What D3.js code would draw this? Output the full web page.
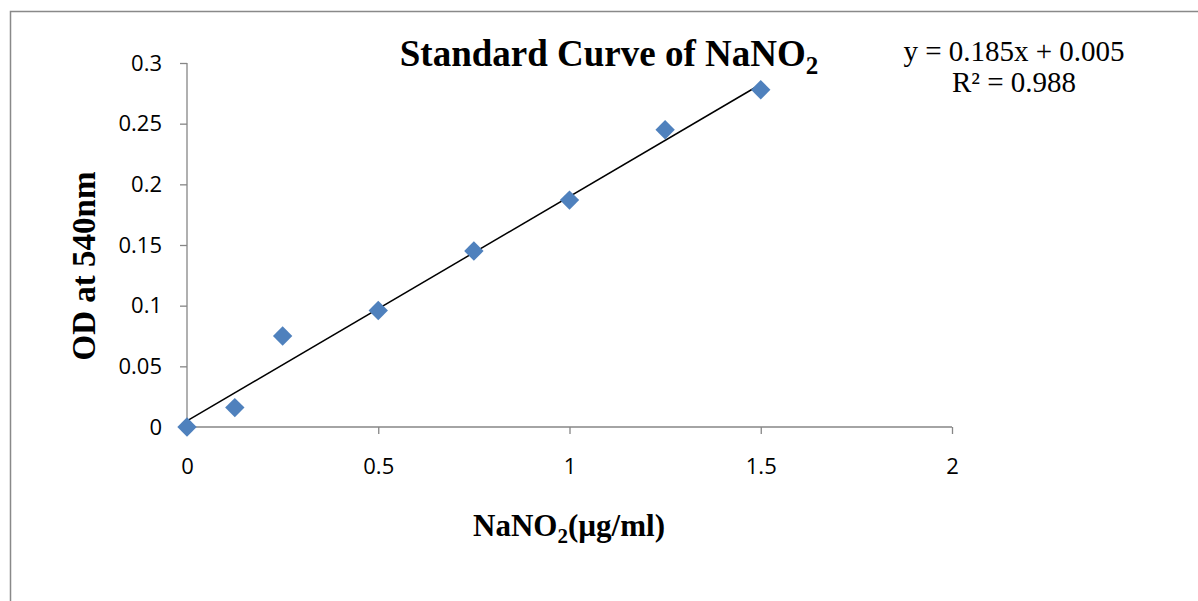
<!DOCTYPE html>
<html>
<head>
<meta charset="utf-8">
<script src="https://cdn.jsdelivr.net/npm/d3@7"></script>
<style>
  body { margin: 0; background: #fff; }
  svg { display: block; }
</style>
</head>
<body>
<div id="chart"></div>
<script>
const width = 1198, height = 601;

// data
const conc = [0, 0.125, 0.25, 0.5, 0.75, 1, 1.25, 1.5];
const od = [0, 0.016, 0.075, 0.096, 0.145, 0.187, 0.245, 0.278];
const xTicks = [0, 0.5, 1, 1.5, 2];
const yTicks = [0, 0.05, 0.1, 0.15, 0.2, 0.25, 0.3];
const slope = 0.185, intercept = 0.005;

const x = d3.scaleLinear().domain([0, 2]).range([187, 952]);
const y = d3.scaleLinear().domain([0, 0.3]).range([427, 63]);

const svg = d3.select("#chart").append("svg")
    .attr("width", width)
    .attr("height", height);

// chart border
svg.append("rect")
    .attr("x", 10.5).attr("y", 11.5)
    .attr("width", width + 20).attr("height", height + 20)
    .attr("fill", "none")
    .attr("stroke", "#898989")
    .attr("stroke-width", 1.5);

const axisColor = "#868686";
const tickFont = "'Open Sans', 'Noto Sans', sans-serif";

// y axis
const yAxis = svg.append("g")
    .attr("transform", "translate(" + x(0) + ",0)")
    .call(d3.axisLeft(y).tickValues(yTicks).tickSize(7).tickPadding(18).tickFormat(d => d3.format("")(d)));
// x axis
const xAxis = svg.append("g")
    .attr("transform", "translate(0," + y(0) + ")")
    .call(d3.axisBottom(x).tickValues(xTicks).tickSize(7).tickPadding(24).tickFormat(d => d3.format("")(d)));

[xAxis, yAxis].forEach(g => {
    g.attr("font-size", null).attr("font-family", null);
    g.select(".domain").attr("stroke", axisColor).attr("stroke-width", 1.3);
    g.selectAll(".tick line").attr("stroke", axisColor).attr("stroke-width", 1.3);
    g.selectAll(".tick text")
        .attr("fill", "#000")
        .style("font-family", tickFont)
        .style("font-size", "22px");
});
// keep only the plain axis line
yAxis.select(".domain").attr("d", "M0," + y(0.3) + "V" + y(0));
xAxis.select(".domain").attr("d", "M" + x(0) + ",0H" + x(2));

// trendline
svg.append("line")
    .attr("x1", x(conc[0]))
    .attr("y1", y(slope * conc[0] + intercept))
    .attr("x2", x(conc[conc.length - 1]))
    .attr("y2", y(slope * conc[conc.length - 1] + intercept))
    .attr("stroke", "#000")
    .attr("stroke-width", 1.5);

// points
svg.append("g")
    .selectAll("path")
    .data(conc.map((c, i) => [c, od[i]]))
    .join("path")
    .attr("transform", d => "translate(" + x(d[0]) + "," + y(d[1]) + ")")
    .attr("d", d3.symbol().type(d3.symbolDiamond2).size(240))
    .attr("fill", "#4F81BD");

const serif = "'Liberation Serif', 'Times New Roman', serif";

// title
const title = svg.append("text")
    .attr("x", 609).attr("y", 66)
    .attr("text-anchor", "middle")
    .style("font-family", serif)
    .style("font-weight", "bold")
    .style("font-size", "37px");
title.append("tspan").text("Standard Curve of NaNO");
title.append("tspan").attr("dy", 8).style("font-size", "25px").text("2");

// equation
svg.append("text")
    .attr("x", 1014).attr("y", 61)
    .attr("text-anchor", "middle")
    .style("font-family", serif)
    .style("font-size", "29px")
    .text("y = 0.185x + 0.005");
svg.append("text")
    .attr("x", 1014).attr("y", 92)
    .attr("text-anchor", "middle")
    .style("font-family", serif)
    .style("font-size", "29px")
    .text("R² = 0.988");

// y label
svg.append("text")
    .attr("transform", "translate(95,266) rotate(-90)")
    .attr("text-anchor", "middle")
    .style("font-family", serif)
    .style("font-weight", "bold")
    .style("font-size", "33px")
    .text("OD at 540nm");

// x label
const xl = svg.append("text")
    .attr("x", 569).attr("y", 536)
    .attr("text-anchor", "middle")
    .style("font-family", serif)
    .style("font-weight", "bold")
    .style("font-size", "31px");
xl.append("tspan").text("NaNO");
xl.append("tspan").attr("dy", 7).style("font-size", "21px").text("2");
xl.append("tspan").attr("dy", -7).text("(µg/ml)");
</script>
</body>
</html>
